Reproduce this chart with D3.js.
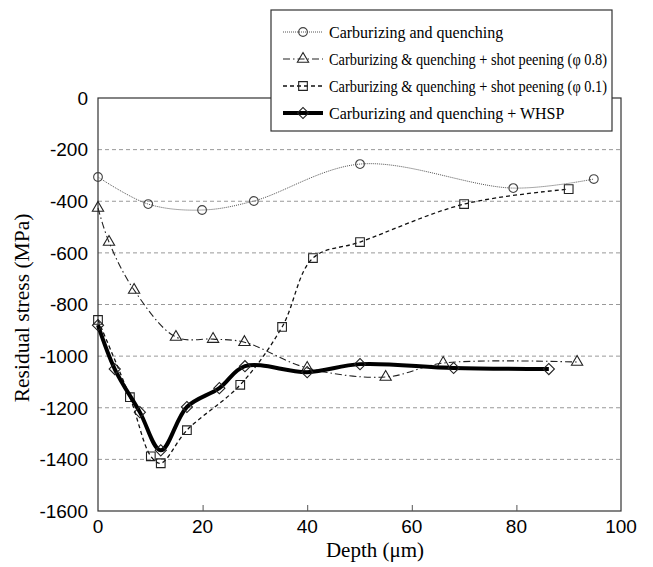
<!DOCTYPE html>
<html>
<head>
<meta charset="utf-8">
<script src="https://cdn.jsdelivr.net/npm/d3@7"></script>
<style>
  body { margin: 0; background: #fff; }
  svg { display: block; }
</style>
</head>
<body>
<svg id="chart" width="653" height="567"></svg>
<script>
'use strict';

// depth (um) / residual stress (MPa)
const cqDepth = [0, 9.6, 19.9, 29.8, 50.1, 79.4, 94.8];
const cqStress = [-306, -411, -434, -399, -256, -349, -314];

const sp08Depth = [0, 2.1, 6.9, 14.9, 22, 28, 40, 55, 66, 91.6];
const sp08Stress = [-426, -558, -744, -926, -934, -946, -1046, -1081, -1027, -1023];

const sp01Depth = [0, 6.1, 10.1, 12, 17, 27.2, 35.2, 41.1, 50.1, 70, 90];
const sp01Stress = [-860, -1159, -1388, -1415, -1287, -1111, -887, -620, -558, -411, -353];

const whspDepth = [0, 3.2, 8, 12, 17, 23.2, 28.1, 40, 50.1, 68, 86.2];
const whspStress = [-880, -1050, -1217, -1365, -1197, -1124, -1039, -1062, -1031, -1046, -1050];

const xTicks = [0, 20, 40, 60, 80, 100];
const yTicks = [0, -200, -400, -600, -800, -1000, -1200, -1400, -1600];

const seriesNames = [
  'Carburizing and quenching',
  'Carburizing & quenching + shot peening (\u03c6 0.8)',
  'Carburizing & quenching + shot peening (\u03c6 0.1)',
  'Carburizing and quenching + WHSP'
];

const zip = (xs, ys) => xs.map((x, i) => ({ x: x, y: ys[i] }));

const series = [
  { name: seriesNames[0], values: zip(cqDepth, cqStress), marker: 'circle',
    stroke: '#555', width: 1, dash: '1,1' },
  { name: seriesNames[1], values: zip(sp08Depth, sp08Stress), marker: 'triangle',
    stroke: '#222', width: 1.1, dash: '7,3,1.5,3' },
  { name: seriesNames[2], values: zip(sp01Depth, sp01Stress), marker: 'square',
    stroke: '#111', width: 1.3, dash: '4,3' },
  { name: seriesNames[3], values: zip(whspDepth, whspStress), marker: 'diamond',
    stroke: '#000', width: 4, dash: null }
];

const margin = { top: 98, right: 32, bottom: 56, left: 98 };
const svg = d3.select('#chart');
const width = +svg.attr('width') - margin.left - margin.right;
const height = +svg.attr('height') - margin.top - margin.bottom;

const x = d3.scaleLinear().domain([0, 100]).range([0, width]);
const y = d3.scaleLinear().domain([-1600, 0]).range([height, 0]);

const g = svg.append('g').attr('transform', `translate(${margin.left},${margin.top})`);

// gridlines
g.selectAll('.grid')
  .data(yTicks.filter(t => t !== 0 && t !== -1600))
  .enter()
  .append('line')
  .attr('x1', 0)
  .attr('x2', width)
  .attr('y1', d => y(d))
  .attr('y2', d => y(d))
  .attr('stroke', '#999')
  .attr('stroke-width', 1)
  .attr('stroke-dasharray', '4,3');

// plot frame
g.append('rect')
  .attr('width', width)
  .attr('height', height)
  .attr('fill', 'none')
  .attr('stroke', '#333')
  .attr('stroke-width', 1.2);

// x axis: only small inward ticks, labels drawn below
const xAxis = g.append('g')
  .attr('transform', `translate(0,${height})`)
  .call(d3.axisTop(x).tickValues(xTicks.slice(1, -1)).tickSize(6).tickFormat(''));
xAxis.select('.domain').remove();
xAxis.selectAll('line').attr('stroke', '#555');

g.selectAll('.xlabel')
  .data(xTicks)
  .enter()
  .append('text')
  .attr('x', d => x(d))
  .attr('y', height + 22)
  .attr('text-anchor', 'middle')
  .style('font-family', 'Liberation Sans, Arial, sans-serif')
  .style('font-size', '19px')
  .text(d => d);

g.selectAll('.ylabel')
  .data(yTicks)
  .enter()
  .append('text')
  .attr('x', -10)
  .attr('y', d => y(d))
  .attr('dy', '0.36em')
  .attr('text-anchor', 'end')
  .style('font-family', 'Liberation Sans, Arial, sans-serif')
  .style('font-size', '19px')
  .text(d => d);

// axis titles
svg.append('text')
  .attr('x', 375)
  .attr('y', 557)
  .attr('text-anchor', 'middle')
  .style('font-family', 'Liberation Serif, Times New Roman, serif')
  .style('font-size', '21px')
  .text('Depth (\u03bcm)');

svg.append('text')
  .attr('transform', 'translate(29,308) rotate(-90)')
  .attr('text-anchor', 'middle')
  .style('font-family', 'Liberation Serif, Times New Roman, serif')
  .style('font-size', '21.5px')
  .text('Residual stress (MPa)');

const line = d3.line()
  .x(d => x(d.x))
  .y(d => y(d.y))
  .curve(d3.curveCatmullRom.alpha(0.5));

const symbolFor = {
  circle: d3.symbol().type(d3.symbolCircle).size(60),
  triangle: d3.symbol().type(d3.symbolTriangle).size(55),
  square: d3.symbol().type(d3.symbolSquare).size(75),
  diamond: d3.symbol().type(d3.symbolSquare).size(62)
};

const markerTransform = s => (s.marker === 'diamond' ? ' rotate(45)' : '');

function drawMarker(sel, s) {
  sel.attr('d', symbolFor[s.marker]())
    .attr('fill', 'none')
    .attr('stroke', s.marker === 'circle' ? '#444' : '#222')
    .attr('stroke-width', 1.1);
}

series.forEach(s => {
  g.append('path')
    .datum(s.values)
    .attr('d', line)
    .attr('fill', 'none')
    .attr('stroke', s.stroke)
    .attr('stroke-width', s.width)
    .attr('stroke-dasharray', s.dash)
    .attr('stroke-linejoin', 'round');

  g.selectAll(null)
    .data(s.values)
    .enter()
    .append('path')
    .attr('transform', d => `translate(${x(d.x)},${y(d.y)})${markerTransform(s)}`)
    .call(drawMarker, s);
});

// legend
const legendW = 341;
const textX = 58;
const legend = svg.append('g').attr('transform', 'translate(271,10)');
legend.append('rect')
  .attr('width', legendW)
  .attr('height', 121)
  .attr('fill', '#fff')
  .attr('stroke', '#333')
  .attr('stroke-width', 1.2);

series.forEach((s, i) => {
  const row = legend.append('g').attr('transform', `translate(0,${22 + i * 27})`);
  row.append('line')
    .attr('x1', 12)
    .attr('x2', 52)
    .attr('stroke', s.stroke)
    .attr('stroke-width', s.width)
    .attr('stroke-dasharray', s.dash);
  row.append('path')
    .attr('transform', `translate(32,0)${markerTransform(s)}`)
    .call(drawMarker, s);
  const label = row.append('text')
    .attr('x', textX)
    .attr('dy', '0.35em')
    .style('font-family', 'Liberation Serif, Times New Roman, serif')
    .style('font-size', '16px')
    .text(s.name);
  // squeeze long labels so they stay inside the box, as in the original
  const room = legendW - textX - 5;
  if (label.node().getComputedTextLength() > room) {
    label.attr('textLength', room).attr('lengthAdjust', 'spacingAndGlyphs');
  }
});
</script>
</body>
</html>
